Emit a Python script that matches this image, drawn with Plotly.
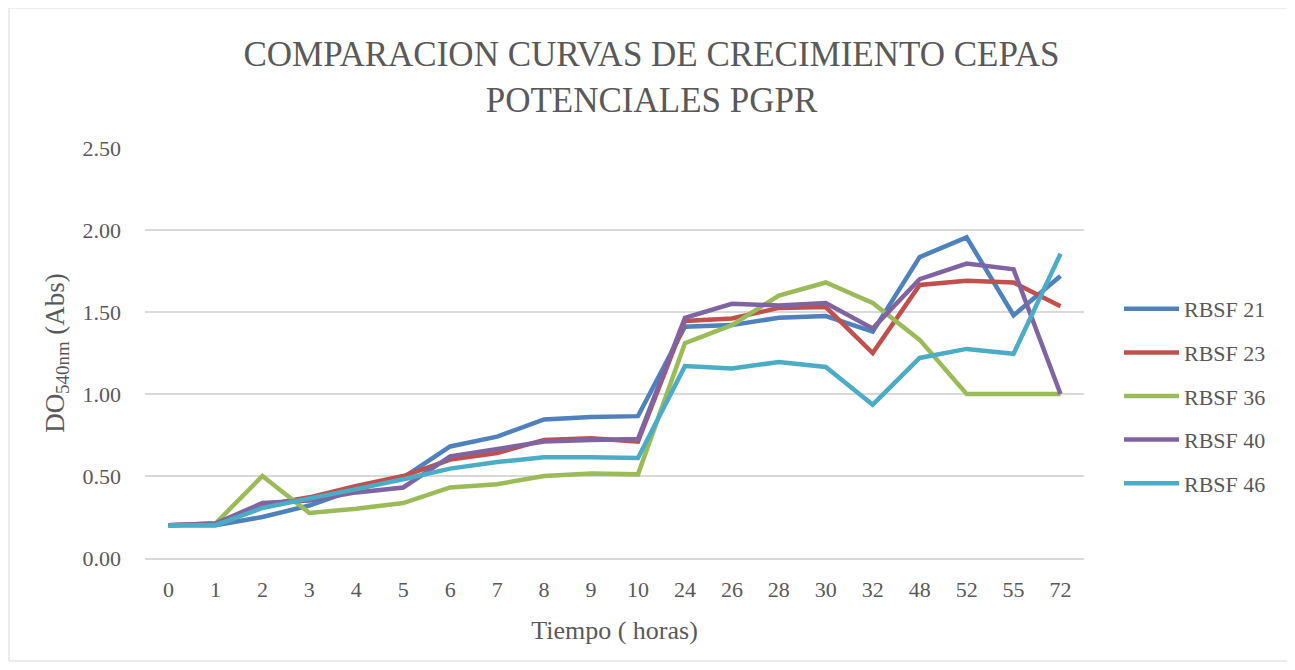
from plotly import graph_objects as go


hours = ["0", "1", "2", "3", "4", "5", "6", "7", "8", "9", "10",
         "24", "26", "28", "30", "32", "48", "52", "55", "72"]

rbsf_21 = [0.20, 0.20, 0.25, 0.32, 0.42, 0.49, 0.68, 0.74, 0.845, 0.86, 0.865,
           1.41, 1.42, 1.465, 1.475, 1.38, 1.835, 1.955, 1.48, 1.72]
rbsf_23 = [0.20, 0.21, 0.32, 0.37, 0.44, 0.50, 0.60, 0.64, 0.72, 0.73, 0.71,
           1.445, 1.46, 1.525, 1.53, 1.25, 1.665, 1.69, 1.68, 1.535]
rbsf_36 = [0.20, 0.21, 0.50, 0.275, 0.30, 0.335, 0.43, 0.45, 0.50, 0.515, 0.51,
           1.31, 1.42, 1.60, 1.68, 1.555, 1.33, 1.00, 1.00, 1.00]
rbsf_40 = [0.20, 0.21, 0.335, 0.35, 0.40, 0.43, 0.62, 0.665, 0.71, 0.72, 0.725,
           1.465, 1.55, 1.54, 1.555, 1.40, 1.70, 1.795, 1.76, 1.00]
rbsf_46 = [0.20, 0.20, 0.305, 0.36, 0.42, 0.48, 0.545, 0.585, 0.615, 0.615, 0.61,
           1.17, 1.155, 1.195, 1.165, 0.935, 1.22, 1.275, 1.245, 1.855]

series = [
    ("RBSF 21", rbsf_21, "#4F81BD"),
    ("RBSF 23", rbsf_23, "#C0504D"),
    ("RBSF 36", rbsf_36, "#9BBB59"),
    ("RBSF 40", rbsf_40, "#8064A2"),
    ("RBSF 46", rbsf_46, "#4BACC6"),
]

SERIF = "Liberation Serif"
GREY = "#595959"

# the page body has an 8px margin, so the figure starts at (8, 8) in the window
W, H = 1287, 654
ML, MT = 137, 140
MR = W - (1084 - 8)
MB = H - (558 - 8)
pw, ph = W - ML - MR, H - MT - MB

fig = go.Figure()
for name, vals, color in series:
    fig.add_trace(
        go.Scatter(
            x=hours,
            y=vals,
            mode="lines",
            name=name,
            legendgroup=name,
            line=dict(color=color, width=4.5),
        )
    )

fig.update_layout(
    width=W,
    height=H,
    margin=dict(l=ML, r=MR, t=MT, b=MB),
    paper_bgcolor="white",
    plot_bgcolor="white",
    title=dict(
        text="COMPARACION CURVAS DE CRECIMIENTO CEPAS<br>POTENCIALES PGPR",
        x=0.5,
        xanchor="center",
        xref="container",
        yref="container",
        y=1 - 58 / H,
        yanchor="middle",
        font=dict(family=SERIF, size=35, color=GREY),
    ),
    font=dict(family=SERIF, color=GREY),
    legend=dict(
        x=1 + 35 / pw,
        xanchor="left",
        y=(558 - 396) / ph,
        yanchor="middle",
        font=dict(family=SERIF, size=22, color=GREY),
        tracegroupgap=12,
        itemwidth=55,
    ),
    xaxis=dict(
        type="category",
        range=[-0.5, 19.5],
        showgrid=False,
        showline=True,
        linecolor="#d9d9d9",
        linewidth=1.5,
        ticks="",
        tickfont=dict(family=SERIF, size=22, color=GREY),
        ticklabelstandoff=11,
        title=dict(text="Tiempo ( horas)", font=dict(family=SERIF, size=26, color=GREY), standoff=20),
    ),
    yaxis=dict(
        range=[0, 2.5],
        dtick=0.5,
        tickformat=".2f",
        showgrid=True,
        gridcolor="#d9d9d9",
        gridwidth=1.5,
        zeroline=False,
        ticks="",
        tickfont=dict(family=SERIF, size=22, color=GREY),
        ticklabelstandoff=23,
        title=dict(text="DO<sub>540nm</sub> (Abs)", font=dict(family=SERIF, size=27, color=GREY), standoff=10),
    ),
    shapes=[
        dict(
            type="rect",
            xref="paper",
            yref="paper",
            x0=-(ML - 1) / pw,
            x1=(W - 1 - ML) / pw,
            y0=-(MB - 1) / ph,
            y1=(H - MB) / ph,
            line=dict(color="#d9d9d9", width=1),
            layer="below",
        )
    ],
)

fig.write_html("out.html")
